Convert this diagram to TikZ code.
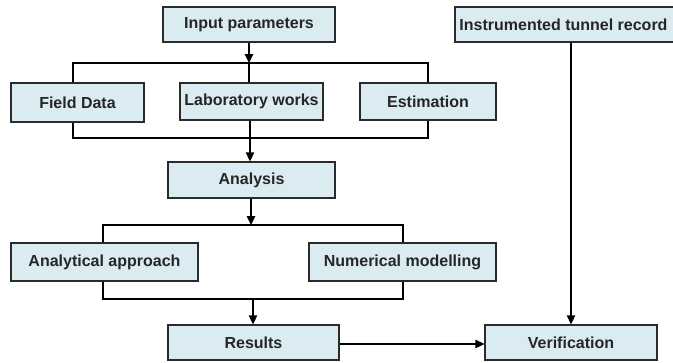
\documentclass[tikz,border=0pt]{standalone}
\usepackage{fontspec}
\setmainfont{Liberation Sans}
\usetikzlibrary{arrows.meta}
\definecolor{boxfill}{HTML}{DAECF2}
\definecolor{boxline}{HTML}{2B2B2B}
\tikzset{
  stepbox/.style={draw=boxline, fill=boxfill, line width=1.3pt, inner sep=0pt,
    font=\fontsize{16}{18}\selectfont\bfseries, text=black!85},
  link/.style={draw=black, line width=1.3pt},
  flow/.style={link, -{Triangle[length=9pt,width=8.5pt]}},
}
% rectangular node spanning the pixel box (x1,y1)-(x2,y2), y measured downward
\newcommand{\boxat}[6]{%
  \node[stepbox, minimum width={(#4-#2)*1pt}, minimum height={(#5-#3)*1pt}]
    (#1) at ({(#2+#4)/2}, {-(#3+#5)/2}) {#6};}
\begin{document}
\begin{tikzpicture}[x=1pt, y=1pt]
\useasboundingbox (0,0) rectangle (673,-362);

\boxat{inp}{163}{7}{335}{42}{Input parameters}
\boxat{itr}{455}{7}{680}{42}{\hspace*{-8pt}Instrumented tunnel record}
\boxat{fld}{11}{83}{144}{122}{Field Data}
\boxat{lab}{180}{83}{323}{120}{Laboratory works}
\boxat{est}{360}{83}{496}{120}{Estimation}
\boxat{ana}{168}{162}{335}{198}{Analysis}
\boxat{apr}{11}{243}{198}{281}{Analytical approach}
\boxat{num}{309}{243}{496}{281}{Numerical modelling}
\boxat{res}{168}{325}{339}{360}{Results}
\boxat{ver}{485}{325}{657}{360}{Verification}

% split into three sources
\coordinate (s1) at (249,-63);
\draw[link] (fld.north -| 73,0) |- (s1) -| (est.north);
\draw[flow] (inp.south -| s1) -- (s1);
\draw[link] (s1) -- (lab.north -| s1);

% merge towards the analysis
\coordinate (m1) at (250,-138);
\draw[link] (fld.south -| 73,0) |- (m1) -| (est.south);
\draw[flow] (lab.south -| m1) -- (ana.north -| m1);

% split into the two approaches
\coordinate (s2) at (251,-225);
\draw[flow] (ana.south -| s2) -- (s2);
\draw[link] (apr.north -| 103,0) |- (s2) -| (num.north -| 403,0);

% merge towards the results
\coordinate (m2) at (253,-299);
\draw[link] (apr.south -| 103,0) |- (m2) -| (num.south -| 403,0);
\draw[flow] (m2) -- (res.north -| m2);

% verification
\draw[flow] (res.east |- 0,-344) -- (ver.west |- 0,-344);
\draw[flow] (itr.south -| 571,0) -- (ver.north -| 571,0);
\end{tikzpicture}
\end{document}
